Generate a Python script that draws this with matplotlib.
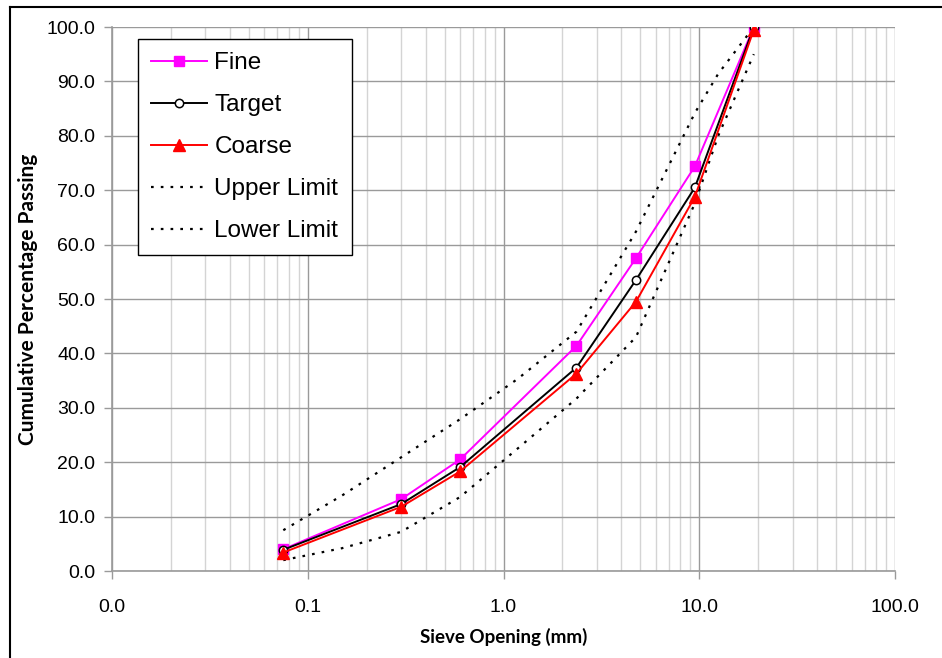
import matplotlib
matplotlib.use('Agg')
import matplotlib.pyplot as plt
from matplotlib.lines import Line2D
from matplotlib.ticker import FixedLocator, LogLocator, NullFormatter

# blend gradations
sieve  = [0.075, 0.3, 0.6, 2.36, 4.75, 9.5, 19.0]
fine   = [4.0, 13.2, 20.5, 41.4, 57.5, 74.4, 100.0]
target = [3.9, 12.3, 19.1, 37.4, 53.5, 70.5, 100.0]
coarse = [3.4, 11.8, 18.3, 36.3, 49.5, 68.8, 99.5]

# specification band
limit_sieve = [0.075, 0.15, 0.3, 0.6, 1.18, 2.36, 4.75, 9.5, 12.5, 19.0]
upper       = [7.5, 13.9, 20.9, 27.9, 35.3, 44.0, 62.4, 84.2, 91.4, 100.0]
lower       = [2.0, 4.2, 7.2, 13.6, 22.5, 31.7, 43.0, 67.6, 80.0, 95.0]

x_ticks  = [0.01, 0.1, 1, 10, 100]
x_labels = ['0.0', '0.1', '1.0', '10.0', '100.0']
y_ticks  = list(range(0, 101, 10))

W, H = 942, 658
fig = plt.figure(figsize=(W/100, H/100), dpi=100)
ax  = fig.add_axes([112/W, (H-571)/H, (895-112)/W, (571-27)/H])

dotted = (0, (1.2, 3.2))
ax.plot(sieve, fine, color='#ff00ff', lw=1.4, marker='s', ms=6.5, label='Fine', zorder=3)
ax.plot(sieve, target, color='black', lw=1.4, marker='o', ms=6, mfc='white', mew=1.1,
        label='Target', zorder=4)
ax.plot(sieve, coarse, color='red', lw=1.4, marker='^', ms=8, label='Coarse', zorder=5)
ax.plot(limit_sieve, upper, color='black', lw=1.6, ls=dotted, label='Upper Limit', zorder=2)
ax.plot(limit_sieve, lower, color='black', lw=1.6, ls=dotted, label='Lower Limit', zorder=2)

ax.set_xscale('log')
ax.set_xlim(0.01, 100)
ax.set_ylim(0, 100)
ax.xaxis.set_major_locator(FixedLocator(x_ticks))
ax.set_xticklabels(x_labels)
ax.xaxis.set_minor_locator(LogLocator(base=10, subs=range(2, 10)))
ax.xaxis.set_minor_formatter(NullFormatter())
ax.set_yticks(y_ticks)
ax.set_yticklabels([f'{v:.1f}' for v in y_ticks])

ax.grid(which='major', color='#9a9a9a', lw=1.0)
ax.grid(which='minor', axis='x', color='#d4d4d4', lw=1.0)
ax.set_axisbelow(True)

for side in ['top', 'right']:
    ax.spines[side].set_visible(False)
for side in ['left', 'bottom']:
    ax.spines[side].set_color('#9a9a9a')
    ax.spines[side].set_linewidth(1.2)

ax.tick_params(which='major', direction='out', color='#9a9a9a', length=6, width=1.0,
               labelsize=14, pad=6)
ax.tick_params(which='minor', length=0)
for lab in ax.get_xticklabels() + ax.get_yticklabels():
    lab.set_family('Liberation Sans')
ax.tick_params(axis='x', pad=14)

ax.set_xlabel('Sieve Opening (mm)', family='Lato', weight='bold', fontsize=13.5, labelpad=9)
ax.set_ylabel('Cumulative Percentage Passing', family='Lato', weight='bold', fontsize=15,
              labelpad=6)

leg = ax.legend(loc='upper left', bbox_to_anchor=(0.033, 0.978), borderaxespad=0,
                fancybox=False, edgecolor='black', framealpha=1, handlelength=2.3,
                borderpad=0.55, labelspacing=0.82, handletextpad=0.3,
                prop={'family': 'Liberation Sans', 'size': 17.5})
leg.get_frame().set_linewidth(1.0)

# outer chart frame
fig.add_artist(Line2D([10/W, 10/W], [0, (H-7)/H], color='black', lw=1.5))
fig.add_artist(Line2D([10/W, 1.0], [(H-7)/H, (H-7)/H], color='black', lw=1.5))

fig.savefig('out.png', dpi=100)
